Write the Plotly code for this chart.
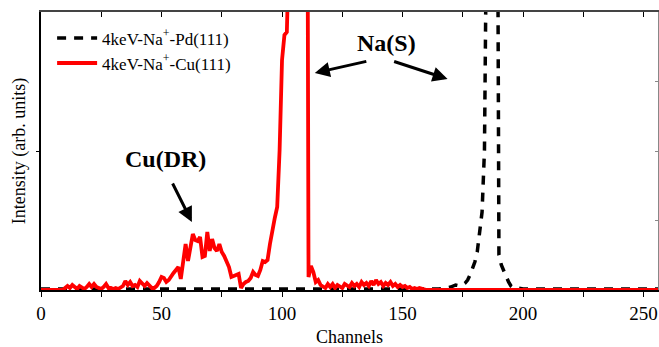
import plotly.graph_objects as go

# ---------------- data ----------------
cu_channels = list(range(0, 161)) + [256]
cu_counts = [
    0, 0, 0, 0, 0, 0, 0, 0, 0, 0,          # 0-9
    2, 4, 2, 5, 3, 1, 4, 2, 1, 3,          # 10-19
    6, 3, 6, 3, 2, 1, 3, 6, 2, 2,          # 20-29
    1, 2, 1, 2, 4, 9, 5, 8, 4, 5,          # 30-39
    3, 9, 6, 4, 7, 4, 2, 2, 4, 8,          # 40-49
    13, 12, 8, 10, 14, 17, 20, 23, 11, 30, # 50-59
    46, 29, 45, 56, 50, 49, 53, 33, 34, 58,  # 60-69
    39, 51, 42, 39, 46, 38, 34, 28, 23, 13,  # 70-79
    14, 15, 16, 2, 6, 8, 9, 12, 18, 15,      # 80-89
    14, 20, 29, 28, 30, 46, 62, 72, 83, 140,  # 90-99
    230, 255, 258, 900, 900, 900, 900, 900, 900, 900,  # 100-109
    900, 13, 24, 18, 8, 10, 5, 3, 2, 6,      # 110-119
    3, 6, 2, 5, 4, 2, 6, 4, 3, 7,            # 120-129
    4, 6, 3, 8, 5, 7, 4, 9, 5, 10,           # 130-139
    6, 8, 4, 7, 5, 8, 4, 6, 3, 5,            # 140-149
    3, 4, 2, 3, 1, 2, 1, 2, 1, 1,            # 150-159
    0, 0,                                    # 160, 256
]

pd_channels = [0, 50, 100, 150, 165, 168, 170, 172, 174, 176, 177, 178, 179, 180,
               181, 182, 183, 184, 185, 186, 187, 188, 189, 190, 191, 192, 193,
               194, 195, 196, 198, 200, 256]
pd_counts = [1, 1, 1, 1, 1, 2, 3, 5, 4, 7, 10, 15, 21, 28,
             38, 55, 78, 140, 240, 900, 950, 900, 700, 35, 25, 19, 14,
             8, 4, 2, 2, 1, 1]

x_ticks = [0, 50, 100, 150, 200, 250]
x_range = [0, 256]
y_range = [0, 278]

pd_name = "4keV-Na<sup>+</sup>-Pd(111)"
cu_name = "4keV-Na<sup>+</sup>-Cu(111)"

FONT = "Liberation Serif, Times New Roman, serif"

fig = go.Figure()
fig.add_trace(go.Scatter(
    x=pd_channels, y=pd_counts, mode="lines", name=pd_name,
    line=dict(color="black", width=3.5, dash="9px,8px"),
))
fig.add_trace(go.Scatter(
    x=cu_channels, y=cu_counts, mode="lines", name=cu_name,
    line=dict(color="#ff0000", width=3.8),
))

# invisible trace to drive top / right frame axes
fig.add_trace(go.Scatter(x=x_range, y=y_range, xaxis="x2", yaxis="y2",
                         mode="none", showlegend=False, hoverinfo="skip"))

arrow = dict(showarrow=True, arrowhead=2, arrowsize=1, arrowwidth=3,
             arrowcolor="black", standoff=0, text="",
             xref="x", yref="y", axref="x", ayref="y")
annotations = [
    dict(x=113.6, y=217, ax=135.6, ay=229, **arrow),
    dict(x=168.7, y=211, ax=145.9, ay=229, **arrow),
    dict(x=62.6, y=68, ax=54.3, ay=108, **arrow),
    dict(x=143.5, y=247, text="<b>Na(S)</b>", showarrow=False,
         xref="x", yref="y", font=dict(family=FONT, size=24, color="black")),
    dict(x=51.8, y=131, text="<b>Cu(DR)</b>", showarrow=False,
         xref="x", yref="y", font=dict(family=FONT, size=24, color="black")),
]

fig.update_layout(
    width=659, height=347,
    margin=dict(l=41, r=1, t=12, b=57),
    paper_bgcolor="white", plot_bgcolor="white",
    font=dict(family=FONT, size=18, color="black"),
    showlegend=True,
    legend=dict(x=0.018, y=0.97, xanchor="left", yanchor="top",
                bgcolor="rgba(0,0,0,0)", font=dict(family=FONT, size=17),
                tracegroupgap=0, itemwidth=40),
    annotations=annotations,
    xaxis=dict(range=x_range, tickvals=x_ticks, ticks="outside", ticklen=5,
               tickwidth=1, tickcolor="black", showline=True, linecolor="black",
               linewidth=1.5, showgrid=False, zeroline=False,
               minor=dict(dtick=25, tick0=0, ticks="outside", ticklen=5,
                          tickcolor="black"),
               title=dict(text="Channels", standoff=8,
                          font=dict(family=FONT, size=18)),
               tickfont=dict(family=FONT, size=19)),
    yaxis=dict(range=y_range, showticklabels=False, tickvals=[139],
               ticks="outside", ticklen=3, tickcolor="black",
               showline=True, linecolor="black", linewidth=1.5,
               showgrid=False, zeroline=False, automargin=False,
               title=dict(text="Intensity (arb. units)", standoff=6,
                          font=dict(family=FONT, size=18))),
    xaxis2=dict(range=x_range, overlaying="x", side="top", anchor="y2",
                showticklabels=False, tickvals=x_ticks, ticks="inside",
                ticklen=5, tickcolor="black", showline=True,
                linecolor="#444444", linewidth=1.5, showgrid=False,
                zeroline=False,
                minor=dict(dtick=25, tick0=0, ticks="inside", ticklen=5,
                           tickcolor="black")),
    yaxis2=dict(range=y_range, overlaying="y", side="right", anchor="x2",
                showticklabels=False, tickvals=[69.5, 139, 208.5],
                ticks="inside", ticklen=3, tickcolor="#888888",
                showline=True, linecolor="#888888", linewidth=1,
                showgrid=False, zeroline=False),
)

fig.write_html("out.html",
               config={"displayModeBar": False},
               post_script="document.body.style.margin='0';"
                           "document.body.style.overflow='hidden';")
